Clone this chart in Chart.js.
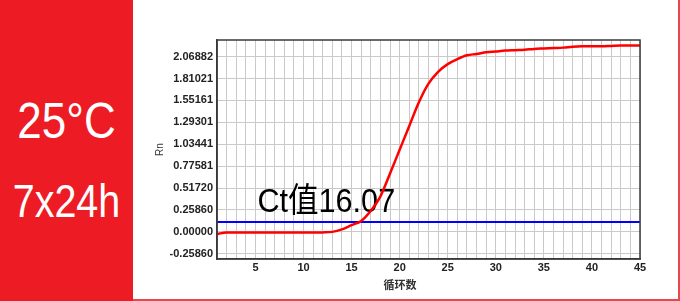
<!DOCTYPE html>
<html>
<head>
<meta charset="utf-8">
<script src="https://cdn.jsdelivr.net/npm/chart.js@4/dist/chart.umd.min.js"></script>
<style>
  html,body{margin:0;padding:0;background:#fff;}
  #wrap{position:relative;width:680px;height:301px;overflow:hidden;font-family:Arial,"Liberation Sans",sans-serif;}
  #side{position:absolute;left:0;top:0;width:133px;height:301px;background:#ed1c24;}
  #side div{position:absolute;left:0;width:133px;text-align:center;color:#fff;white-space:nowrap;transform-origin:center;}
  #temp{top:96px;font-size:50px;line-height:50px;transform:scaleX(0.88);}
  #time{top:177px;font-size:47px;line-height:47px;transform:scaleX(0.84);}
  #frame{position:absolute;left:133px;top:0;width:547px;height:301px;box-sizing:border-box;border-right:2px solid #e8474d;border-bottom:2px solid #e8474d;}
  #c{position:absolute;left:0;top:0;}
</style>
</head>
<body>
<div id="wrap">
  <div id="side"><div id="temp">25°C</div><div id="time">7x24h</div></div>
  <div id="frame"></div>
  <canvas id="c" width="680" height="301"></canvas>
</div>
<script>
// cycles and fluorescence readings (Rn)
const cycles = [1,2,3,4,5,6,7,8,9,10,11,12,13,14,15,16,17,18,19,20,21,22,23,24,25,26,27,28,29,30,31,32,33,34,35,36,37,38,39,40,41,42,43,44,45];
const rnValues = [-0.025,-0.007,-0.007,-0.007,-0.007,-0.007,-0.007,-0.007,-0.007,-0.007,-0.007,-0.006,0.0,0.03,0.08,0.13,0.25,0.42,0.69,0.97,1.25,1.53,1.75,1.89,1.98,2.04,2.085,2.10,2.12,2.13,2.14,2.145,2.15,2.16,2.165,2.17,2.175,2.185,2.19,2.19,2.19,2.195,2.20,2.20,2.20];
const thresholdValue = 0.118;
const yTickValues = [-0.2586,0,0.2586,0.51720,0.77581,1.03441,1.29301,1.55161,1.81021,2.06882];
const yTickLabels = ["-0.25860","0.00000","0.25860","0.51720","0.77581","1.03441","1.29301","1.55161","1.81021","2.06882"];
const ctText = "Ct值16.07";
const ctPos = {x:5.2, y:0.24};

const gridColor = "#c9c9c9";
const tickFont = {family:'Arial, "Liberation Sans"', size:11, weight:'bold'};

// frame, axis titles and Ct label
const extras = {
  id:"extras",
  beforeDatasetsDraw(chart){
    const c = chart.ctx, xs = chart.scales.x, ys = chart.scales.y;
    c.save();
    c.fillStyle = "#000";
    c.font = '34px Arial, "Liberation Sans", "Noto Sans CJK SC"';
    c.textBaseline = "alphabetic";
    c.translate(xs.getPixelForValue(ctPos.x), ys.getPixelForValue(ctPos.y));
    c.scale(0.9,1);
    c.fillText(ctText,0,0);
    c.restore();
  },
  afterDraw(chart){
    const c = chart.ctx, a = chart.chartArea;
    c.save();
    c.strokeStyle = "#3a3a3a";
    c.lineWidth = 1.5;
    c.strokeRect(a.left, a.top, a.right-a.left, a.bottom-a.top);
    c.fillStyle = "#333";
    c.font = '10px Arial, "Liberation Sans"';
    c.textAlign = "center";
    c.textBaseline = "middle";
    c.save();
    c.translate(160,(a.top+a.bottom)/2);
    c.rotate(-Math.PI/2);
    c.fillText("Rn",0,0);
    c.restore();
    c.font = 'bold 11px "Noto Sans CJK SC", sans-serif';
    c.fillText("循环数",400,285);
    c.restore();
  }
};

new Chart(document.getElementById("c"),{
  type:"line",
  data:{
    datasets:[
      {data:cycles.map((x,i)=>({x, y:rnValues[i]})), borderColor:"#ff0000", borderWidth:2.5, pointRadius:0, cubicInterpolationMode:"monotone"},
      {data:[{x:cycles[0], y:thresholdValue},{x:cycles[cycles.length-1], y:thresholdValue}], borderColor:"#0000ff", borderWidth:2, pointRadius:0}
    ]
  },
  options:{
    responsive:false,
    animation:false,
    layout:{padding:{left:0, top:40, right:40, bottom:0}},
    plugins:{legend:{display:false}, tooltip:{enabled:false}},
    scales:{
      x:{
        type:"linear", min:1, max:45,
        afterFit(s){ s.height = 42; },
        ticks:{stepSize:1, autoSkip:false, maxRotation:0, padding:2, color:"#222", font:tickFont,
          callback:v=> v%5===0 ? String(v) : ""},
        grid:{color:gridColor, drawTicks:false},
        border:{color:"#3a3a3a", width:1.5}
      },
      y:{
        min:-0.32, max:2.265,
        afterFit(s){ s.width = 217; },
        afterBuildTicks(s){ s.ticks = yTickValues.map(v=>({value:v})); },
        ticks:{padding:4, color:"#222", font:tickFont, callback:(v,i)=>yTickLabels[i]},
        grid:{color:gridColor, drawTicks:false},
        border:{color:"#3a3a3a", width:1.5}
      }
    }
  },
  plugins:[extras]
});
</script>
</body>
</html>
